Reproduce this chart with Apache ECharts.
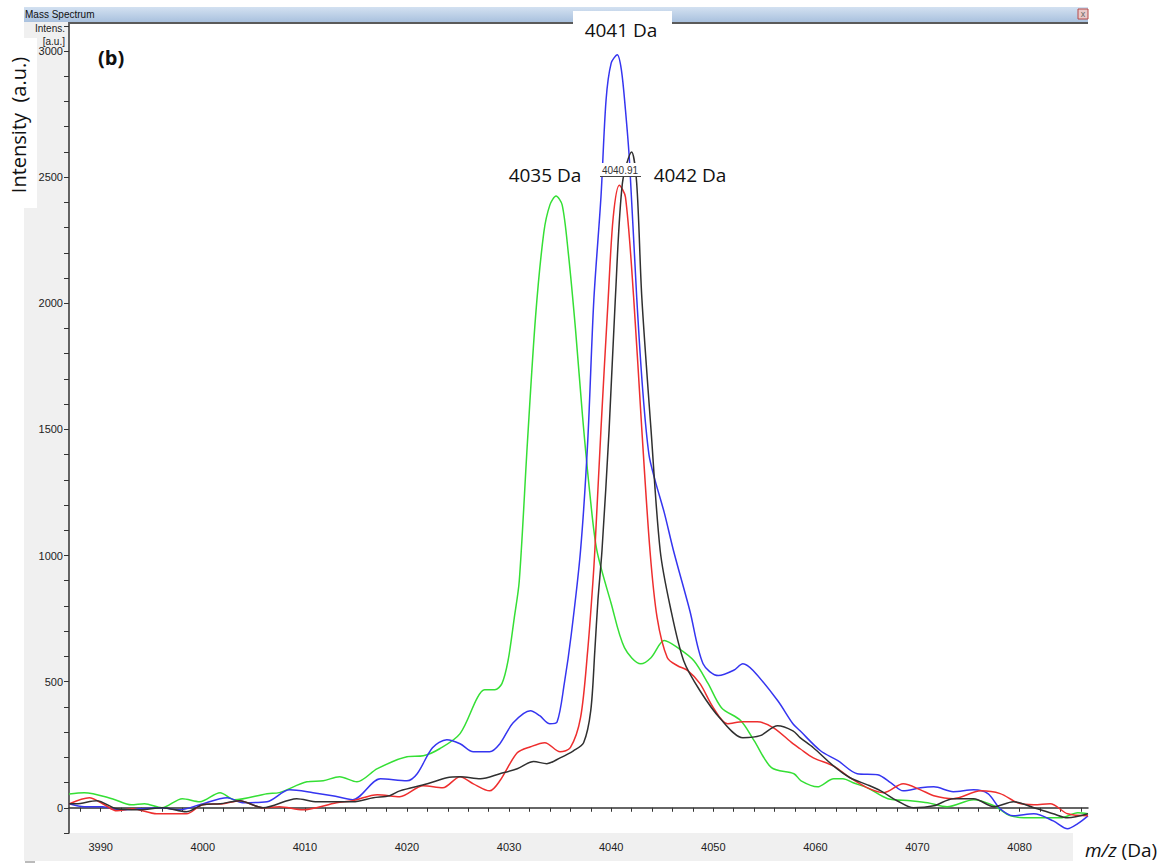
<!DOCTYPE html>
<html>
<head>
<meta charset="utf-8">
<title>Mass Spectrum</title>
<script src="https://cdn.jsdelivr.net/npm/echarts@6.0.0/dist/echarts.min.js"></script>
<style>
html, body { margin: 0; padding: 0; background: #fff; }
#chart { width: 1171px; height: 865px; }
</style>
</head>
<body>
<div id="chart"></div>
<script>
// m/z (Da) and intensity (a.u.)
const greenMz = [3986.9, 3988.4, 3991.2, 3993.0, 3994.3, 3996.0, 3998.0, 3999.7, 4001.7, 4003.1, 4006.3, 4007.5, 4010.2, 4011.8, 4013.4, 4015.1, 4017.1, 4020.0, 4021.6, 4023.2, 4025.2, 4026.9, 4027.6, 4028.6, 4029.3, 4029.9, 4030.5, 4031.0, 4031.8, 4032.6, 4033.4, 4034.0, 4034.6, 4035.2, 4035.8, 4036.5, 4037.2, 4037.9, 4038.6, 4040.0, 4041.3, 4042.9, 4043.9, 4045.2, 4046.5, 4048.1, 4049.5, 4050.8, 4052.7, 4054.0, 4055.7, 4057.9, 4058.6, 4060.2, 4061.8, 4062.7, 4063.7, 4065.1, 4067.1, 4069.3, 4071.0, 4072.9, 4075.5, 4077.5, 4079.1, 4081.4, 4084.0, 4085.7, 4086.7]
const greenInt = [55, 60, 35, 12, 16, 0, 36, 24, 60, 32, 56, 60, 103, 107, 123, 103, 155, 202, 206, 234, 294, 437, 468, 468, 492, 583, 750, 900, 1450, 1950, 2280, 2390, 2425, 2390, 2200, 1900, 1550, 1250, 1020, 810, 635, 571, 595, 663, 635, 583, 492, 397, 345, 266, 159, 135, 107, 83, 115, 115, 99, 79, 36, 28, 20, 4, 32, 8, -32, -40, -40, -20, -24]

const blueMz = [3986.9, 3988.4, 3990.2, 3991.7, 3993.8, 3995.8, 3997.7, 3999.7, 4002.4, 4003.9, 4006.3, 4008.5, 4010.8, 4012.7, 4014.7, 4017.4, 4020.0, 4021.0, 4022.5, 4023.9, 4025.2, 4026.5, 4028.1, 4029.1, 4030.4, 4032.1, 4033.0, 4034.0, 4034.7, 4035.4, 4036.1, 4037.0, 4037.7, 4038.3, 4039.0, 4039.5, 4040.0, 4040.6, 4041.0, 4041.4, 4041.8, 4042.5, 4043.1, 4043.7, 4044.3, 4045.2, 4046.1, 4047.7, 4049.0, 4050.5, 4052.0, 4052.9, 4053.9, 4056.3, 4057.8, 4058.5, 4060.5, 4062.2, 4064.1, 4066.1, 4067.4, 4068.6, 4070.3, 4071.6, 4073.5, 4075.5, 4076.9, 4078.1, 4079.4, 4081.4, 4083.3, 4084.7, 4085.7, 4086.7]
const blueInt = [16, 4, 4, -8, -4, 0, -8, 12, 40, 20, 24, 71, 60, 48, 32, 115, 107, 135, 238, 270, 254, 222, 222, 254, 337, 385, 365, 333, 340, 490, 690, 1020, 1450, 2012, 2421, 2806, 2952, 2985, 2925, 2766, 2560, 2024, 1650, 1400, 1298, 1170, 1020, 782, 571, 524, 545, 571, 544, 425, 333, 305, 226, 187, 135, 131, 99, 67, 79, 83, 64, 71, 56, -4, -32, -24, -52, -83, -63, -32]

const redMz = [3986.9, 3988.9, 3990.2, 3991.6, 3993.1, 3995.5, 3996.8, 3998.4, 4000.0, 4002.0, 4003.6, 4005.9, 4007.5, 4009.8, 4013.1, 4014.7, 4017.1, 4019.3, 4021.6, 4023.5, 4025.2, 4026.5, 4028.1, 4029.1, 4030.8, 4032.1, 4033.5, 4035.0, 4036.0, 4037.0, 4037.7, 4038.2, 4038.4, 4039.0, 4039.7, 4040.2, 4040.8, 4041.4, 4042.2, 4043.0, 4043.8, 4044.5, 4045.5, 4046.5, 4047.5, 4048.7, 4050.0, 4051.4, 4052.9, 4054.3, 4055.9, 4057.8, 4058.5, 4059.8, 4061.8, 4063.4, 4065.1, 4066.7, 4068.6, 4070.3, 4071.6, 4073.5, 4076.2, 4078.1, 4079.8, 4081.4, 4083.0, 4084.7, 4086.7]
const redInt = [15, 40, 16, -12, -4, -24, -24, -24, 12, 16, 28, 0, 4, -8, 20, 28, 52, 44, 87, 79, 123, 95, 67, 107, 218, 242, 258, 222, 238, 357, 623, 889, 1020, 1500, 2012, 2341, 2468, 2421, 2024, 1500, 1020, 754, 595, 563, 544, 492, 397, 333, 341, 341, 317, 254, 234, 198, 165, 119, 79, 60, 95, 71, 48, 36, 67, 56, 20, 12, 16, -24, -32]

const blackMz = [3986.9, 3987.6, 3989.6, 3991.6, 3993.8, 3996.1, 3998.4, 4000.0, 4001.7, 4003.6, 4005.9, 4009.2, 4011.2, 4013.1, 4014.7, 4016.7, 4018.3, 4019.3, 4022.0, 4023.9, 4025.2, 4027.2, 4029.1, 4030.8, 4032.4, 4033.7, 4035.0, 4036.3, 4037.3, 4038.0, 4038.4, 4038.7, 4039.1, 4039.8, 4040.4, 4041.1, 4042.0, 4042.5, 4043.0, 4043.9, 4044.8, 4045.8, 4047.1, 4048.7, 4050.7, 4052.9, 4054.6, 4056.3, 4057.8, 4058.5, 4059.8, 4061.8, 4063.4, 4065.1, 4066.4, 4068.0, 4069.6, 4071.6, 4073.5, 4075.5, 4077.5, 4079.4, 4081.4, 4083.3, 4084.7, 4086.7]
const blackInt = [16, 16, 28, -4, -8, 0, -16, 12, 16, 28, 0, 36, 24, 24, 24, 40, 48, 67, 95, 119, 123, 115, 135, 155, 183, 175, 198, 226, 258, 385, 623, 821, 1020, 1500, 2012, 2476, 2600, 2476, 2024, 1500, 1020, 794, 583, 464, 353, 278, 286, 325, 305, 278, 238, 165, 119, 91, 67, 28, 0, 8, 36, 36, 4, 24, 0, -24, -40, -24]

// axis ticks and labels
const mzTicks = []
for (let v = 3988; v <= 4086; v += 2) mzTicks.push(v)
const mzLabels = [3990, 4000, 4010, 4020, 4030, 4040, 4050, 4060, 4070, 4080]
const intTicks = []
for (let v = -100; v <= 3100; v += 100) intTicks.push(v)
const intLabels = [0, 500, 1000, 1500, 2000, 2500, 3000]

const pairs = (xs, ys) => xs.map((x, i) => [x, ys[i]])

const chart = echarts.init(document.getElementById('chart'), null, { renderer: 'svg' })

const labelFont = 'Liberation Sans, Arial, sans-serif'
const noteFont = 'Open Sans, sans-serif'

const makeLine = (name, color, xs, ys) => ({
  name: name,
  type: 'line',
  data: pairs(xs, ys),
  showSymbol: false,
  smooth: 0.3,
  lineStyle: { color: color, width: 1.5 },
  itemStyle: { color: color },
  silent: true
})

const option = {
  animation: false,
  grid: { left: 69, top: 22, right: 83, bottom: 32 },
  xAxis: {
    type: 'value',
    min: 3986.9,
    max: 4086.7,
    axisLine: { show: true, lineStyle: { color: '#333', width: 1.5 } },
    axisTick: { show: true, length: 4, customValues: mzTicks, lineStyle: { color: '#333' } },
    axisLabel: { customValues: mzLabels, margin: 8, fontSize: 11, color: '#222', fontFamily: labelFont, formatter: v => String(v) },
    splitLine: { show: false }
  },
  yAxis: {
    type: 'value',
    min: -100,
    max: 3115,
    axisLine: { show: true, lineStyle: { color: '#333', width: 1.5 } },
    axisTick: { show: true, length: 5, customValues: intTicks, lineStyle: { color: '#333' } },
    axisLabel: { customValues: intLabels, margin: 6, fontSize: 11, color: '#222', fontFamily: labelFont, formatter: v => String(v) },
    splitLine: { show: false }
  },
  series: [
    makeLine('green', '#35df35', greenMz, greenInt),
    makeLine('blue', '#3535f0', blueMz, blueInt),
    makeLine('red', '#ee2e2e', redMz, redInt),
    makeLine('black', '#303030', blackMz, blackInt)
  ],
  graphic: [
    // window chrome
    { type: 'rect', z: -5, shape: { x: 24, y: 22, width: 45, height: 839 }, style: { fill: '#f0f0f0' } },
    { type: 'rect', z: -5, shape: { x: 24, y: 833, width: 1049, height: 28 }, style: { fill: '#f0f0f0' } },
    { type: 'rect', z: -5, shape: { x: 25, y: 861, width: 10, height: 2 }, style: { fill: '#bbb' } },
    {
      type: 'rect', z: 50, shape: { x: 24, y: 7, width: 1064, height: 15 },
      style: { fill: new echarts.graphic.LinearGradient(0, 0, 0, 1, [{ offset: 0, color: '#d3e1f1' }, { offset: 1, color: '#a9c1de' }]) }
    },
    { type: 'rect', z: 50, shape: { x: 69, y: 22, width: 1019, height: 2 }, style: { fill: '#5a5a5a' } },
    { type: 'text', z: 51, x: 25, y: 14, style: { text: 'Mass Spectrum', fontSize: 10, fontFamily: labelFont, fill: '#111', verticalAlign: 'middle' } },
    { type: 'rect', z: 51, shape: { x: 1078, y: 9, width: 10, height: 10 }, style: { fill: '#e9c9c9', stroke: '#b54a4a', lineWidth: 1 } },
    { type: 'text', z: 52, x: 1083, y: 14, style: { text: 'x', fontSize: 9, fontFamily: labelFont, fill: '#666', align: 'center', verticalAlign: 'middle' } },
    { type: 'text', z: 51, x: 65, y: 28, style: { text: 'Intens.', fontSize: 10, fontFamily: labelFont, fill: '#222', align: 'right', verticalAlign: 'middle' } },
    { type: 'text', z: 51, x: 65, y: 41, style: { text: '[a.u.]', fontSize: 10, fontFamily: labelFont, fill: '#222', align: 'right', verticalAlign: 'middle' } },

    // peak label drawn by the software
    { type: 'rect', z: 55, shape: { x: 600, y: 163, width: 41, height: 13 }, style: { fill: '#fff' } },
    { type: 'text', z: 56, x: 620, y: 170, style: { text: '4040.91', fontSize: 10, fontFamily: labelFont, fill: '#333', align: 'center', verticalAlign: 'middle' } },
    { type: 'line', z: 56, shape: { x1: 600, y1: 176.5, x2: 641, y2: 176.5 }, style: { stroke: '#444', lineWidth: 1 } },

    // pasted annotations
    { type: 'rect', z: 60, shape: { x: 0, y: 38, width: 37, height: 170 }, style: { fill: '#fff' } },
    {
      type: 'text', z: 61, x: 18, y: 125, rotation: Math.PI / 2,
      style: { text: 'Intensity  (a.u.)', fontSize: 20, fontFamily: noteFont, fill: '#111', align: 'center', verticalAlign: 'middle' }
    },
    { type: 'text', z: 61, x: 98, y: 57, style: { text: '(b)', fontSize: 20, fontWeight: 'bold', fontFamily: noteFont, fill: '#111', verticalAlign: 'middle' } },
    { type: 'rect', z: 60, shape: { x: 573, y: 11, width: 99, height: 32 }, style: { fill: '#fff' } },
    { type: 'text', z: 61, x: 621, y: 30, style: { text: '4041 Da', fontSize: 19, fontFamily: noteFont, fill: '#111', align: 'center', verticalAlign: 'middle' } },
    { type: 'text', z: 61, x: 545, y: 175, style: { text: '4035 Da', fontSize: 19, fontFamily: noteFont, fill: '#111', align: 'center', verticalAlign: 'middle' } },
    { type: 'text', z: 61, x: 690, y: 175, style: { text: '4042 Da', fontSize: 19, fontFamily: noteFont, fill: '#111', align: 'center', verticalAlign: 'middle' } },
    { type: 'rect', z: 60, shape: { x: 1073, y: 833, width: 98, height: 32 }, style: { fill: '#fff' } },
    {
      type: 'text', z: 61, x: 1085, y: 850,
      style: {
        text: '{i|m/z} (Da)', fontSize: 19, fontFamily: noteFont, fill: '#111', verticalAlign: 'middle',
        rich: { i: { fontStyle: 'italic', fontSize: 19, fontFamily: noteFont, fill: '#111' } }
      }
    }
  ]
}

chart.setOption(option)
</script>
</body>
</html>
